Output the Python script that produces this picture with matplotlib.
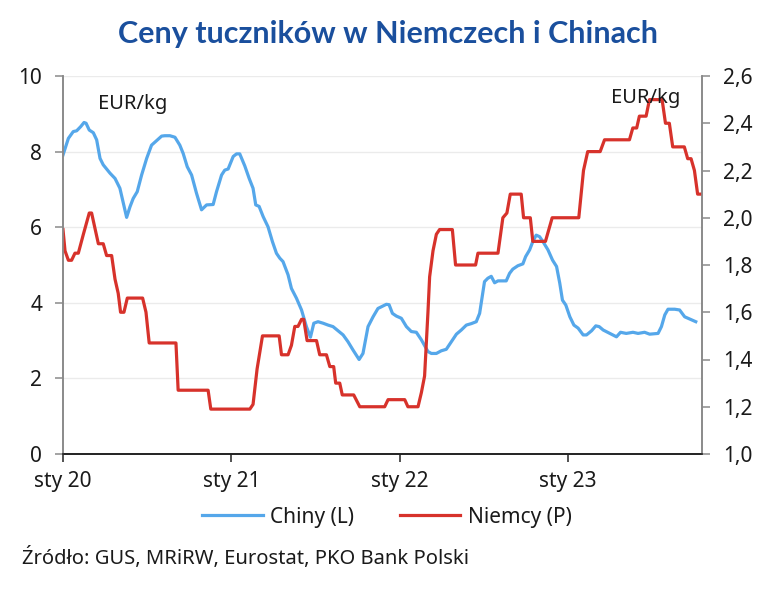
import matplotlib
matplotlib.use('Agg')
import matplotlib.pyplot as plt
from matplotlib import font_manager as fm
from matplotlib.lines import Line2D

names = {f.name for f in fm.fontManager.ttflist}
BODY = 'Liberation Sans Narrow' if 'Liberation Sans Narrow' in names else 'Noto Sans'
TITLE = 'Lato' if 'Lato' in names else 'DejaVu Sans'

# ---- data (fractional year, value) ----
china_t = [2020.000, 2020.032, 2020.061, 2020.081, 2020.105, 2020.125, 2020.137, 2020.156,
           2020.180, 2020.200, 2020.220, 2020.239, 2020.279, 2020.309, 2020.338, 2020.354,
           2020.378, 2020.398, 2020.417, 2020.441, 2020.467, 2020.497, 2020.526, 2020.556,
           2020.586, 2020.605, 2020.635, 2020.665, 2020.694, 2020.714, 2020.738, 2020.764,
           2020.793, 2020.823, 2020.853, 2020.892, 2020.912, 2020.942, 2020.961, 2020.981,
           2021.011, 2021.031, 2021.050, 2021.080, 2021.106, 2021.129, 2021.145, 2021.165,
           2021.189, 2021.218, 2021.244, 2021.268, 2021.288, 2021.307, 2021.337, 2021.357,
           2021.387, 2021.417, 2021.446, 2021.470, 2021.490, 2021.515, 2021.545, 2021.575,
           2021.604, 2021.634, 2021.664, 2021.693, 2021.723, 2021.759, 2021.782, 2021.812,
           2021.842, 2021.871, 2021.921, 2021.937, 2021.957, 2021.980, 2022.010, 2022.040,
           2022.069, 2022.099, 2022.129, 2022.168, 2022.188, 2022.218, 2022.247, 2022.277,
           2022.307, 2022.337, 2022.366, 2022.396, 2022.426, 2022.455, 2022.475, 2022.504,
           2022.524, 2022.544, 2022.564, 2022.584, 2022.633, 2022.653, 2022.672, 2022.702,
           2022.732, 2022.748, 2022.772, 2022.791, 2022.811, 2022.831, 2022.851, 2022.881,
           2022.908, 2022.932, 2022.951, 2022.967, 2022.987, 2023.011, 2023.035, 2023.060,
           2023.090, 2023.110, 2023.140, 2023.165, 2023.185, 2023.209, 2023.249, 2023.288,
           2023.312, 2023.346, 2023.386, 2023.416, 2023.455, 2023.485, 2023.535, 2023.555,
           2023.575, 2023.594, 2023.634, 2023.663, 2023.693, 2023.713, 2023.759]
china_v = [7.91, 8.35, 8.53, 8.55, 8.66, 8.77, 8.75, 8.57,
           8.50, 8.31, 7.82, 7.65, 7.43, 7.29, 7.03, 6.72,
           6.26, 6.54, 6.76, 6.94, 7.38, 7.82, 8.17, 8.29,
           8.41, 8.42, 8.42, 8.38, 8.17, 7.95, 7.60, 7.38,
           6.90, 6.46, 6.59, 6.60, 6.94, 7.38, 7.51, 7.54,
           7.87, 7.94, 7.94, 7.62, 7.29, 7.03, 6.59, 6.55,
           6.28, 6.01, 5.62, 5.31, 5.18, 5.09, 4.74, 4.38,
           4.12, 3.81, 3.37, 3.09, 3.46, 3.50, 3.46, 3.41,
           3.37, 3.26, 3.15, 2.97, 2.75, 2.50, 2.66, 3.37,
           3.63, 3.85, 3.96, 3.95, 3.72, 3.65, 3.59, 3.37,
           3.24, 3.22, 3.02, 2.71, 2.66, 2.66, 2.73, 2.77,
           2.97, 3.17, 3.28, 3.41, 3.45, 3.50, 3.72, 4.56,
           4.65, 4.70, 4.53, 4.58, 4.58, 4.78, 4.89, 4.98,
           5.03, 5.22, 5.40, 5.62, 5.79, 5.75, 5.62, 5.40,
           5.13, 4.96, 4.52, 4.07, 3.94, 3.63, 3.41, 3.33,
           3.15, 3.15, 3.26, 3.39, 3.37, 3.28, 3.19, 3.10,
           3.22, 3.19, 3.22, 3.19, 3.22, 3.17, 3.19, 3.37,
           3.68, 3.83, 3.83, 3.81, 3.63, 3.59, 3.50]

germany_t = [2020.000, 2020.012, 2020.032, 2020.051, 2020.071, 2020.091, 2020.121, 2020.156,
             2020.170, 2020.210, 2020.239, 2020.259, 2020.289, 2020.309, 2020.328, 2020.342,
             2020.362, 2020.382, 2020.473, 2020.493, 2020.512, 2020.671, 2020.684, 2020.862,
             2020.878, 2021.110, 2021.129, 2021.153, 2021.185, 2021.284, 2021.298, 2021.337,
             2021.357, 2021.377, 2021.396, 2021.417, 2021.430, 2021.450, 2021.506, 2021.525,
             2021.565, 2021.585, 2021.608, 2021.620, 2021.644, 2021.659, 2021.727, 2021.763,
             2021.911, 2021.931, 2022.030, 2022.049, 2022.109, 2022.129, 2022.148, 2022.168,
             2022.178, 2022.198, 2022.218, 2022.237, 2022.313, 2022.332, 2022.451, 2022.465,
             2022.584, 2022.613, 2022.637, 2022.657, 2022.722, 2022.736, 2022.776, 2022.791,
             2022.866, 2022.906, 2023.064, 2023.092, 2023.117, 2023.191, 2023.217, 2023.365,
             2023.385, 2023.408, 2023.424, 2023.464, 2023.484, 2023.559, 2023.579, 2023.602,
             2023.622, 2023.691, 2023.711, 2023.731, 2023.751, 2023.770, 2023.796]
germany_v = [1.95, 1.86, 1.82, 1.82, 1.85, 1.85, 1.93, 2.02,
             2.02, 1.89, 1.89, 1.84, 1.84, 1.74, 1.68, 1.60,
             1.60, 1.66, 1.66, 1.60, 1.47, 1.47, 1.27, 1.27,
             1.19, 1.19, 1.21, 1.36, 1.50, 1.50, 1.42, 1.42,
             1.46, 1.54, 1.54, 1.57, 1.57, 1.48, 1.48, 1.42,
             1.42, 1.37, 1.37, 1.30, 1.30, 1.25, 1.25, 1.20,
             1.20, 1.23, 1.23, 1.20, 1.20, 1.26, 1.33, 1.60,
             1.75, 1.86, 1.93, 1.95, 1.95, 1.80, 1.80, 1.85,
             1.85, 2.00, 2.02, 2.10, 2.10, 2.00, 2.00, 1.90,
             1.90, 2.00, 2.00, 2.20, 2.28, 2.28, 2.33, 2.33,
             2.38, 2.38, 2.43, 2.43, 2.50, 2.50, 2.40, 2.40,
             2.30, 2.30, 2.25, 2.25, 2.20, 2.10, 2.10]

year_ticks = [2020, 2021, 2022, 2023]
year_labels = ['sty 20', 'sty 21', 'sty 22', 'sty 23']
left_ticks = [0, 2, 4, 6, 8, 10]
right_ticks = [1.0, 1.2, 1.4, 1.6, 1.8, 2.0, 2.2, 2.4, 2.6]

BLUE = '#55a7ea'
RED = '#d7322b'
TITLE_C = '#1a4f9d'
AXIS_GRAY = '#8a8a8a'
TXT = '#1a1a1a'

fig = plt.figure(figsize=(7.74, 5.89), dpi=100)
ax = fig.add_axes([63/774, 1-454/589, (702-63)/774, (454-76)/589])
ax2 = ax.twinx()

ax.plot(china_t, china_v, color=BLUE, lw=2.3, solid_joinstyle='round')
ax2.plot(germany_t, germany_v, color=RED, lw=2.3, solid_joinstyle='round')

ax.set_xlim(2020.0, 2023.796)
ax.set_ylim(0, 10)
ax2.set_ylim(1.0, 2.6)
ax.set_xticks(year_ticks)
ax.set_xticklabels(year_labels)
ax.set_yticks(left_ticks)
ax.set_yticklabels([str(v) for v in left_ticks])
ax2.set_yticks(right_ticks)
ax2.set_yticklabels([f'{v:.1f}'.replace('.', ',') for v in right_ticks])

ax.grid(axis='y', color='#ebebeb', lw=1)
ax.set_axisbelow(True)
for a in (ax, ax2):
    a.spines['top'].set_visible(False)
    a.spines['left'].set_color(AXIS_GRAY)
    a.spines['right'].set_color(AXIS_GRAY)
    a.spines['bottom'].set_color('#222222')
    a.spines['left'].set_linewidth(1.2)
    a.spines['right'].set_linewidth(1.2)
    a.spines['bottom'].set_linewidth(1.2)

fs = 15
ax.tick_params(axis='y', direction='out', length=6, width=1.1, color=AXIS_GRAY,
               labelsize=fs, labelcolor=TXT, pad=9)
ax.tick_params(axis='x', direction='out', length=6, width=1.1, color='#222222',
               labelsize=fs, labelcolor=TXT, pad=6)
ax2.tick_params(axis='y', direction='out', length=6, width=1.1, color=AXIS_GRAY,
                labelsize=fs, labelcolor=TXT, pad=9)
for lab in ax.get_xticklabels() + ax.get_yticklabels() + ax2.get_yticklabels():
    lab.set_family(BODY)

fig.text(98/774, 1-104/589, 'EUR/kg', fontsize=14.5, family=BODY, color=TXT, va='center', ha='left')
fig.text(611/774, 1-98/589, 'EUR/kg', fontsize=14.5, family=BODY, color=TXT, va='center', ha='left')

fig.text(0.501, 1-34/589, 'Ceny tuczników w Niemczech i Chinach', fontsize=22, fontweight='bold',
         family=TITLE, color=TITLE_C, ha='center', va='center')

handles = [Line2D([], [], color=BLUE, lw=2.3), Line2D([], [], color=RED, lw=2.3)]
fig.legend(handles, ['Chiny (L)', 'Niemcy (P)'], loc='center', bbox_to_anchor=(0.5, 1-517/589),
           ncol=2, frameon=False, prop={'family': BODY, 'size': fs}, handlelength=2.9,
           columnspacing=2.2, handletextpad=0.35, labelcolor=TXT)

fig.text(22/774, 1-558/589, 'Źródło: GUS, MRiRW, Eurostat, PKO Bank Polski', fontsize=14.5,
         family=BODY, color=TXT, ha='left', va='center')

fig.savefig('out.png', dpi=100, facecolor='white')
